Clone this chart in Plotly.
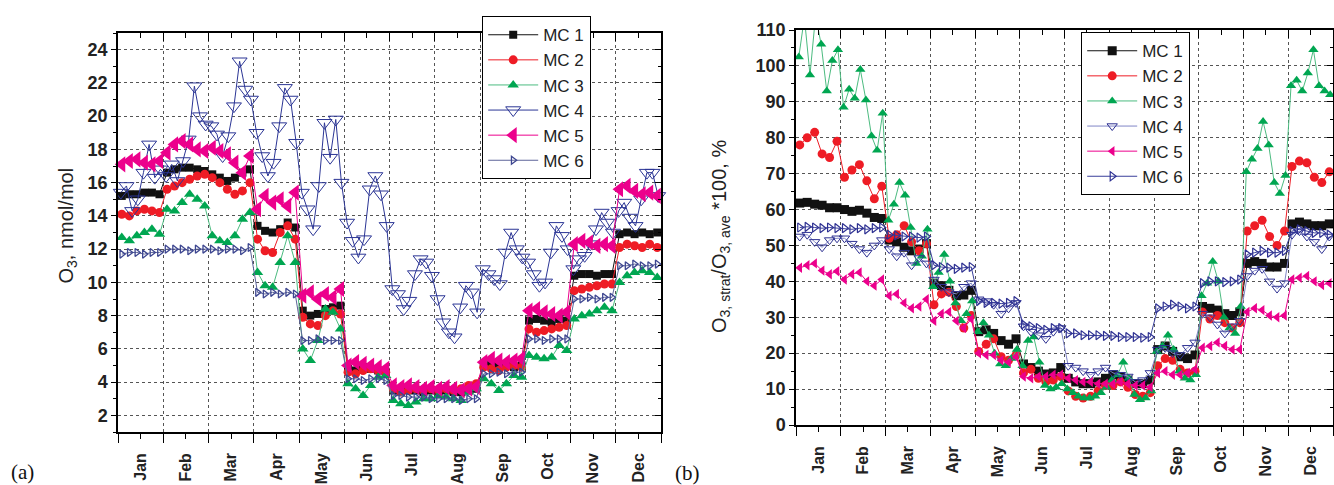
import plotly.graph_objects as go

MONTHS = ["Jan", "Feb", "Mar", "Apr", "May", "Jun", "Jul", "Aug", "Sep", "Oct", "Nov", "Dec"]
SERIES = ["MC 1", "MC 2", "MC 3", "MC 4", "MC 5", "MC 6"]

# ---------- Panel (a): O3, nmol/mol (6 readings per month; MC 4 has 8) ----------
A_MC1 = [15.2, 15.3, 15.3, 15.4, 15.4, 15.3, 16.6, 16.8, 16.9, 16.9, 16.8, 16.7,
         16.5, 16.3, 16.1, 16.3, 16.6, 16.8, 13.4, 13.1, 13.0, 13.2, 13.6, 13.3,
         8.3, 8.0, 8.1, 8.4, 8.5, 8.6, 4.8, 4.7, 4.9, 4.8, 4.7, 4.6,
         3.5, 3.4, 3.5, 3.5, 3.4, 3.5, 3.4, 3.5, 3.4, 3.4, 3.5, 3.6,
         5.0, 5.1, 5.1, 5.0, 4.9, 5.0, 7.7, 7.8, 7.7, 7.6, 7.8, 7.7,
         10.4, 10.5, 10.5, 10.4, 10.5, 10.5, 12.9, 13.0, 12.9, 13.0, 12.9, 13.0]
A_MC2 = [14.1, 14.0, 14.3, 14.4, 14.3, 14.2, 15.6, 15.8, 16.0, 16.2, 16.4, 16.5,
         16.3, 16.0, 15.6, 15.3, 15.5, 16.0, 12.6, 11.9, 11.8, 13.0, 13.4, 12.6,
         7.9, 7.5, 7.4, 8.0, 8.3, 8.1, 4.6, 4.5, 4.7, 4.8, 4.7, 4.6,
         3.6, 3.4, 3.5, 3.6, 3.5, 3.6, 3.5, 3.6, 3.5, 3.6, 3.8, 3.9,
         4.9, 4.8, 4.7, 4.9, 5.0, 4.9, 7.2, 7.0, 7.1, 7.2, 7.3, 7.4,
         9.5, 9.6, 9.7, 9.8, 9.9, 9.9, 12.1, 12.3, 12.2, 12.1, 12.3, 12.1]
A_MC3 = [12.7, 12.5, 12.8, 13.0, 13.2, 12.9, 14.4, 14.3, 14.8, 15.3, 15.0, 14.6,
         12.8, 12.5, 12.4, 12.8, 13.8, 14.2, 10.6, 9.8, 9.7, 11.2, 12.8, 11.2,
         6.0, 5.3, 6.5, 8.4, 8.2, 7.2, 3.9, 3.6, 3.2, 3.8, 4.3, 4.4,
         2.9, 2.7, 2.6, 2.8, 3.0, 3.0, 3.2, 3.1, 3.0, 2.9, 3.4, 3.6,
         4.2, 3.9, 3.5, 3.9, 4.4, 4.3, 5.6, 5.5, 5.4, 5.5, 6.2, 5.9,
         7.8, 8.0, 8.1, 8.3, 8.5, 8.3, 10.0, 10.4, 10.6, 10.7, 10.6, 10.3]
A_MC4 = [15.4, 15.8, 14.3, 15.0, 16.6, 18.3, 16.3, 16.8,
         16.4, 17.1, 16.1, 17.3, 18.6, 21.8, 20.0, 19.5,
         19.4, 18.9, 17.6, 18.8, 20.6, 23.3, 21.6, 21.0,
         19.0, 17.6, 16.4, 17.2, 19.4, 21.7, 21.0, 18.4,
         15.4, 14.4, 13.2, 15.8, 19.6, 17.5, 19.8, 16.0,
         13.6, 12.5, 11.5, 12.6, 15.6, 16.4, 15.3, 13.4,
         9.6, 9.3, 8.4, 8.9, 10.5, 11.4, 11.2, 10.4,
         9.0, 7.6, 7.0, 6.7, 8.5, 9.8, 9.4, 8.2,
         10.8, 10.5, 10.2, 9.9, 11.8, 13.0, 12.0, 11.5,
         11.2, 10.5, 9.8, 10.0, 11.8, 13.4, 12.8, 12.0,
         10.8, 11.4, 11.6, 12.3, 13.2, 14.2, 13.6, 13.0,
         14.3, 14.8, 13.9, 13.4, 15.0, 16.6, 16.6, 15.2]
A_MC5 = [17.1, 17.3, 17.4, 17.2, 17.1, 17.3, 17.8, 18.3, 18.5, 18.3, 18.0, 17.9,
         18.1, 17.9, 17.7, 17.2, 16.6, 17.6, 14.4, 15.2, 14.8, 15.0, 14.6, 15.4,
         9.2, 9.4, 9.0, 9.3, 9.1, 9.6, 5.0, 5.2, 5.1, 5.0, 4.9, 4.8,
         3.8, 3.7, 3.8, 3.7, 3.6, 3.7, 3.6, 3.7, 3.6, 3.5, 3.6, 3.7,
         5.2, 5.4, 5.3, 5.2, 5.3, 5.4, 8.3, 8.4, 8.2, 8.1, 8.0, 8.2,
         12.3, 12.5, 12.4, 12.2, 12.3, 12.2, 15.6, 15.8, 15.5, 15.3, 15.4, 15.2]
A_MC6 = [11.7, 11.8, 11.8, 11.7, 11.8, 11.8, 12.0, 12.0, 12.0, 11.9, 12.0, 12.0,
         12.0, 11.9, 12.0, 12.0, 11.9, 12.1, 9.4, 9.3, 9.4, 9.3, 9.4, 9.3,
         6.5, 6.5, 6.6, 6.5, 6.5, 6.5, 4.2, 4.2, 4.1, 4.2, 4.2, 4.1,
         3.2, 3.2, 3.1, 3.1, 3.1, 3.0, 3.0, 3.0, 3.0, 2.9, 3.0, 3.0,
         4.5, 4.5, 4.6, 4.5, 4.6, 4.6, 6.6, 6.6, 6.5, 6.6, 6.6, 6.6,
         9.0, 9.0, 9.1, 9.0, 9.1, 9.1, 11.0, 11.0, 11.1, 11.0, 11.0, 11.1]

# ---------- Panel (b): O3,strat/O3,ave*100, % (6 readings per month; MC 3 has 8) ----------
B_MC1 = [61.8, 62.0, 61.5, 61.2, 60.5, 60.5, 60.0, 59.5, 59.8, 59.0, 57.8, 57.5,
         51.5, 51.0, 49.5, 48.5, 49.0, 50.5, 39.5, 38.8, 37.5, 36.0, 36.2, 37.5,
         26.0, 26.5, 25.5, 23.5, 22.5, 24.0, 17.0, 16.0, 15.0, 14.2, 14.5, 16.0,
         13.0, 12.0, 11.5, 11.5, 12.0, 13.0, 14.0, 13.5, 12.5, 11.5, 11.5, 12.5,
         21.0, 22.0, 20.5, 19.0, 18.5, 19.5, 33.0, 32.5, 32.0, 31.0, 30.5, 31.5,
         45.0, 45.5, 45.0, 44.0, 44.0, 45.0, 56.0, 56.5, 56.0, 55.5, 55.5, 56.0]
B_MC2 = [78.0, 80.0, 81.5, 75.5, 74.5, 79.0, 69.0, 71.0, 72.5, 68.0, 63.0, 66.5,
         52.0, 53.0, 55.5, 51.0, 48.5, 50.5, 33.5, 36.5, 37.0, 33.0, 27.0, 30.5,
         20.5, 22.5, 24.0, 19.0, 18.0, 19.5, 14.5, 15.5, 13.0, 12.0, 12.5, 13.5,
         9.5, 8.0, 7.5, 8.0, 9.5, 11.0, 11.0, 12.0, 10.5, 8.5, 8.0, 9.0,
         16.5, 18.5, 18.0, 15.5, 14.5, 15.0, 31.5, 29.5, 30.5, 28.5, 27.0, 28.5,
         54.0, 55.5, 57.0, 52.5, 50.0, 54.0, 72.0, 73.5, 73.0, 69.0, 67.5, 70.5]
B_MC3 = [102.5, 113.5, 97.5, 114.0, 106.0, 93.0, 101.5, 104.5,
         88.5, 93.5, 91.0, 99.0, 90.5, 80.5, 76.5, 86.8,
         57.0, 61.5, 67.5, 64.0, 55.0, 45.0, 47.0, 54.5,
         38.5, 42.5, 47.5, 40.0, 34.0, 29.0, 31.0, 34.5,
         26.0, 28.5, 25.0, 20.0, 17.0, 16.5, 18.5, 21.0,
         16.5, 23.5, 24.5, 17.5, 11.0, 10.0, 10.5, 11.5,
         10.0, 9.0, 8.0, 7.5, 7.5, 8.0, 9.0, 10.5,
         12.5, 14.0, 17.5, 13.0, 8.5, 7.0, 7.5, 9.5,
         20.5, 22.0, 25.0, 21.0, 15.0, 13.0, 12.5, 14.0,
         36.0, 39.5, 45.5, 40.0, 30.0, 27.0, 25.5, 33.0,
         70.5, 74.0, 77.0, 84.5, 78.0, 67.5, 64.5, 69.5,
         94.5, 96.0, 93.0, 98.0, 104.5, 94.5, 93.0, 92.0]
B_MC4 = [52.5, 53.0, 51.0, 49.5, 51.5, 52.0, 52.0, 50.5, 49.0, 48.0, 50.0, 51.5,
         49.0, 47.0, 48.0, 44.5, 46.5, 45.0, 40.5, 38.5, 37.0, 36.5, 38.5, 39.5,
         35.0, 34.5, 33.5, 31.0, 32.5, 34.0, 27.5, 26.0, 25.0, 24.0, 26.0, 27.0,
         16.5, 16.0, 15.0, 14.0, 15.0, 16.0, 14.5, 14.0, 13.5, 12.0, 12.5, 14.5,
         21.0, 21.5, 20.0, 19.5, 21.5, 23.0, 31.0, 30.0, 28.0, 25.5, 27.5, 29.0,
         41.5, 43.0, 43.5, 40.0, 38.0, 39.5, 53.0, 54.0, 52.5, 51.0, 49.0, 52.5]
B_MC5 = [43.8, 44.5, 45.0, 43.0, 42.0, 42.8, 40.5, 42.0, 42.5, 40.0, 38.8, 40.5,
         36.0, 36.5, 34.0, 32.5, 33.0, 35.0, 29.0, 31.0, 31.5, 29.0, 27.0, 29.5,
         20.0, 19.5, 19.5, 18.0, 17.5, 19.0, 13.5, 13.0, 13.5, 13.5, 14.0, 14.0,
         13.0, 12.5, 12.0, 12.0, 11.5, 11.5, 11.5, 12.0, 11.5, 11.0, 11.0, 10.5,
         14.5, 15.0, 14.0, 14.0, 14.5, 15.5, 21.5, 22.0, 23.0, 22.0, 21.0, 21.0,
         31.5, 32.5, 32.0, 30.5, 30.0, 30.5, 40.5, 41.0, 41.5, 40.0, 39.0, 39.5]
B_MC6 = [55.0, 55.2, 55.0, 54.8, 55.0, 54.8, 54.8, 54.5, 54.8, 54.5, 54.8, 55.0,
         53.0, 52.8, 52.5, 52.5, 52.2, 52.5, 44.5, 44.0, 43.8, 43.5, 43.8, 44.0,
         34.5, 34.0, 34.0, 33.8, 34.0, 34.5, 28.0, 27.5, 27.0, 26.5, 27.0, 27.0,
         25.5, 25.5, 25.0, 25.0, 25.0, 24.8, 24.8, 24.5, 24.5, 24.5, 24.3, 24.5,
         32.5, 33.0, 33.5, 33.0, 32.5, 33.0, 39.5, 40.0, 40.0, 39.8, 40.0, 40.5,
         47.5, 48.0, 48.5, 48.0, 48.0, 48.5, 54.0, 54.5, 54.0, 53.5, 53.5, 53.0]


def month_positions(values):
    """Place the readings evenly inside each month (x axis unit = one month)."""
    per = len(values) // 12
    return [m + (k + 0.5) / per for m in range(12) for k in range(per)]


W, H = 1334, 485
FONT = "Liberation Sans, Arial, sans-serif"

STYLE_A = [
    dict(symbol="square", size=8, color="#111111", line=dict(width=0), lc="#111111"),
    dict(symbol="circle", size=9, color="#ee1c25", line=dict(width=0), lc="#ee1c25"),
    dict(symbol="triangle-up", size=10, color="#00a651", line=dict(width=0), lc="#4cbb80"),
    dict(symbol="triangle-down-open", size=13, color="#2b3595", line=dict(width=1), lc="#2b3595"),
    dict(symbol="triangle-left", size=14, color="#ec008c", line=dict(width=0), lc="#ec008c"),
    dict(symbol="triangle-right-open", size=7, color="#3d4690", line=dict(width=1.3), lc="#5d6499"),
]
STYLE_B = [
    dict(symbol="square", size=9, color="#111111", line=dict(width=0), lc="#111111"),
    dict(symbol="circle", size=9, color="#ee1c25", line=dict(width=0), lc="#ee1c25"),
    dict(symbol="triangle-up", size=9, color="#00a651", line=dict(width=0), lc="#4cbb80"),
    dict(symbol="triangle-down-open", size=9, color="#2e3192", line=dict(width=1), lc="#8085c6"),
    dict(symbol="triangle-left", size=9, color="#ec008c", line=dict(width=0), lc="#ec008c"),
    dict(symbol="triangle-right-open", size=8, color="#2e3192", line=dict(width=1.2), lc="#3a3f9a"),
]

fig = go.Figure()

for name, vals, st in zip(SERIES, [A_MC1, A_MC2, A_MC3, A_MC4, A_MC5, A_MC6], STYLE_A):
    fig.add_trace(go.Scatter(
        x=month_positions(vals), y=vals, name=name, mode="lines+markers",
        line=dict(color=st["lc"], width=1),
        marker=dict(symbol=st["symbol"], size=st["size"], color=st["color"], line=st["line"]),
        cliponaxis=False, xaxis="x", yaxis="y", legend="legend"))

for name, vals, st in zip(SERIES, [B_MC1, B_MC2, B_MC3, B_MC4, B_MC5, B_MC6], STYLE_B):
    fig.add_trace(go.Scatter(
        x=month_positions(vals), y=vals, name=name, mode="lines+markers",
        line=dict(color=st["lc"], width=1),
        marker=dict(symbol=st["symbol"], size=st["size"], color=st["color"], line=st["line"]),
        cliponaxis=False, xaxis="x2", yaxis="y2", legend="legend2"))

# empty traces so the mirrored (top / right) tick axes are drawn
for xa, ya in (("x3", "y3"), ("x4", "y4")):
    fig.add_trace(go.Scatter(x=[None], y=[None], xaxis=xa, yaxis=ya,
                             showlegend=False, hoverinfo="skip"))

MIDS = [m + 0.5 for m in range(12)]
BOUNDS = list(range(13))
GRID = dict(color="#555555", dash="dot")


def x_axis(domain, anchor):
    return dict(domain=domain, anchor=anchor, range=[0, 12], tickmode="array",
                tickvals=MIDS, ticktext=MONTHS, tickangle=-90, ticks="outside",
                ticklen=5, tickwidth=1.2, tickcolor="black", showgrid=False,
                zeroline=False, showline=True, linecolor="black", linewidth=1.5,
                mirror=True, ticklabelstandoff=8, automargin=False,
                tickfont=dict(family=FONT, size=16, color="#222222", weight="bold"),
                minor=dict(tickmode="array", tickvals=BOUNDS, ticks="outside", ticklen=9,
                           tickwidth=1.2, tickcolor="black", showgrid=True,
                           gridcolor=GRID["color"], griddash=GRID["dash"], gridwidth=1))


def y_axis(domain, anchor, rng, dtick, mdtick):
    return dict(domain=domain, anchor=anchor, range=rng, tickmode="linear", tick0=0,
                dtick=dtick, ticks="outside", ticklen=5, tickwidth=1.2, tickcolor="black",
                showgrid=True, gridcolor=GRID["color"], griddash=GRID["dash"], gridwidth=1,
                zeroline=False, showline=True, linecolor="black", linewidth=1.5, mirror=True,
                automargin=False,
                tickfont=dict(family=FONT, size=18, color="#222222", weight="bold"),
                minor=dict(tick0=0, dtick=mdtick, ticks="outside", ticklen=3, tickwidth=1.2,
                           tickcolor="black", showgrid=False))


def top_axis(over, anchor):
    return dict(overlaying=over, anchor=anchor, side="top", range=[0, 12], tickmode="array",
                tickvals=MIDS, ticks="inside", ticklen=5, tickwidth=1.2, tickcolor="black",
                showticklabels=False, showgrid=False, zeroline=False, showline=False,
                automargin=False,
                minor=dict(tickmode="array", tickvals=BOUNDS, ticks="inside", ticklen=8,
                           tickwidth=1.2, tickcolor="black", showgrid=False))


def right_axis(over, anchor, rng, dtick, mdtick):
    return dict(overlaying=over, anchor=anchor, side="right", range=rng, tickmode="linear",
                tick0=0, dtick=dtick, ticks="inside", ticklen=6, tickwidth=1.2,
                tickcolor="black", showticklabels=False, showgrid=False, zeroline=False,
                showline=False, automargin=False,
                minor=dict(tick0=0, dtick=mdtick, ticks="inside", ticklen=3, tickwidth=1.2,
                           tickcolor="black", showgrid=False))


XA = [118 / W, 661 / W]
YA = [1 - 432 / H, 1 - 33 / H]
XB = [796 / W, 1333 / W]
YB = [1 - 425 / H, 1 - 30 / H]

fig.update_layout(
    width=W, height=H, autosize=False,
    margin=dict(l=0, r=0, t=0, b=0, autoexpand=False),
    paper_bgcolor="white", plot_bgcolor="white",
    font=dict(family=FONT, color="#222222"),
    xaxis=x_axis(XA, "y"),
    yaxis=y_axis(YA, "x", [1, 25], 2, 1),
    xaxis2=x_axis(XB, "y2"),
    yaxis2=y_axis(YB, "x2", [0, 110], 10, 5),
    xaxis3=top_axis("x", "y"),
    yaxis3=right_axis("y", "x", [1, 25], 2, 1),
    xaxis4=top_axis("x2", "y2"),
    yaxis4=right_axis("y2", "x2", [0, 110], 10, 5),
    legend=dict(x=482 / W, y=1 - 16 / H, xanchor="left", yanchor="top",
                bgcolor="white", bordercolor="black", borderwidth=1.2,
                font=dict(family=FONT, size=17, color="#222222"),
                itemwidth=50, tracegroupgap=0),
    legend2=dict(x=1081 / W, y=1 - 32 / H, xanchor="left", yanchor="top",
                 bgcolor="white", bordercolor="black", borderwidth=1.2,
                 font=dict(family=FONT, size=17, color="#222222"),
                 itemwidth=50, tracegroupgap=0),
    showlegend=True,
    annotations=[
        dict(text="O<sub>3</sub>, nmol/mol", x=52 / W, y=1 - 226 / H, xref="paper",
             yref="paper", textangle=-90, showarrow=False,
             font=dict(family=FONT, size=20, color="#222222")),
        dict(text="O<sub>3, strat</sub>/O<sub>3, ave</sub> *100, %", x=720 / W,
             y=1 - 237 / H, xref="paper", yref="paper", textangle=-90, showarrow=False,
             font=dict(family=FONT, size=20, color="#222222")),
        dict(text="(a)", x=9 / W, y=1 - 472 / H, xref="paper", yref="paper",
             xanchor="left", yanchor="middle", showarrow=False,
             font=dict(family="Liberation Serif, Times New Roman, serif", size=21, color="#111111")),
        dict(text="(b)", x=673 / W, y=1 - 473 / H, xref="paper", yref="paper",
             xanchor="left", yanchor="middle", showarrow=False,
             font=dict(family="Liberation Serif, Times New Roman, serif", size=21, color="#111111")),
    ],
)

fig.write_html("out.html", config={"displayModeBar": False},
               post_script="document.body.style.margin='0';document.body.style.overflow='hidden';")
